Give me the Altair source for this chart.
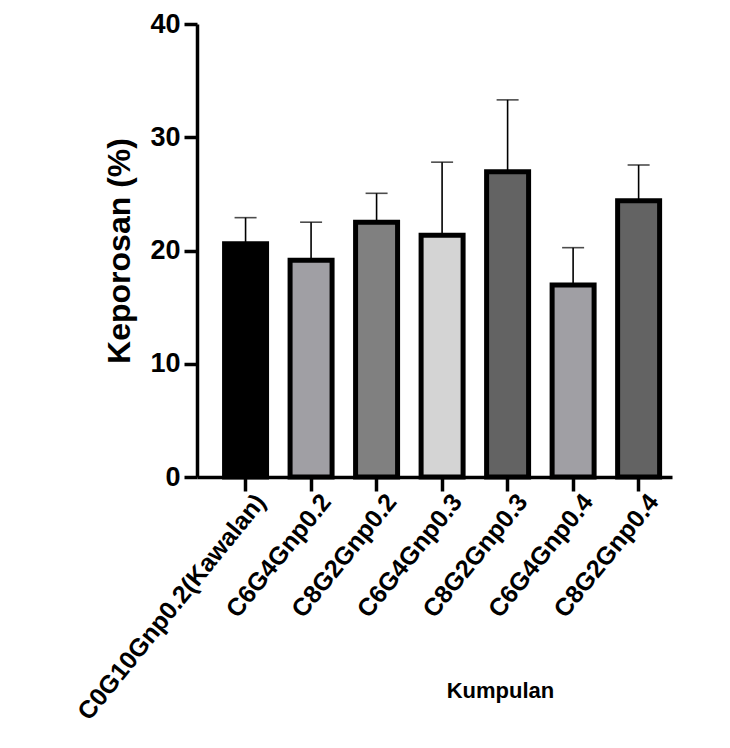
import altair as alt
import pandas as pd

categories = ["C0G10Gnp0.2(Kawalan)", "C6G4Gnp0.2", "C8G2Gnp0.2", "C6G4Gnp0.3",
              "C8G2Gnp0.3", "C6G4Gnp0.4", "C8G2Gnp0.4"]
means = [20.6, 19.15, 22.5, 21.35, 26.95, 16.95, 24.4]
upper = [22.9, 22.5, 25.05, 27.8, 33.3, 20.25, 27.55]
colors = ["#000000", "#a09fa4", "#808080", "#d4d4d4", "#636363", "#a09fa4", "#636363"]

df = pd.DataFrame({"cat": categories, "mean": means, "upper": upper})

FONT = "Liberation Sans"

x = alt.X("cat:N", sort=categories,
          scale=alt.Scale(paddingInner=0.359, paddingOuter=0.305, align=0.69),
          axis=alt.Axis(title="Kumpulan", labelAngle=-51, labelAlign="right",
                        labelBaseline="middle", labelFontSize=25, labelFontWeight="bold",
                        labelFont=FONT, labelColor="black", labelPadding=6, labelLimit=0,
                        labelOffset=15,
                        titleFontSize=22, titleFontWeight="bold", titleFont=FONT,
                        titleColor="black", titleX=303, titleY=203,
                        domainColor="black", domainWidth=3.5, tickColor="black",
                        tickWidth=3.5, tickSize=14, grid=False))
y_axis = alt.Axis(title="Keporosan (%)", values=[0, 10, 20, 30, 40],
                  labelFontSize=27, labelFontWeight="bold", labelFont=FONT,
                  labelColor="black", labelPadding=4,
                  titleFontSize=32, titleFontWeight="bold", titleFont=FONT,
                  titleColor="black", titlePadding=13,
                  domainColor="black", domainWidth=3.5, tickColor="black",
                  tickWidth=3.5, tickSize=13, grid=False)
yscale = alt.Scale(domain=[0, 40], nice=False, zero=True)

base = alt.Chart(df)

rule = base.mark_rule(color="black", strokeWidth=1.6).encode(
    x=x, y=alt.Y("mean:Q", scale=yscale, axis=y_axis), y2="upper:Q")
cap = base.mark_tick(color="black", thickness=1.6, size=22).encode(
    x=x, y=alt.Y("upper:Q", scale=yscale))
bars = base.mark_bar(stroke="black", strokeWidth=5, strokeJoin="miter").encode(
    x=x, y=alt.Y("mean:Q", scale=yscale, axis=y_axis),
    color=alt.Color("cat:N", scale=alt.Scale(domain=categories, range=colors), legend=None))

chart = alt.layer(rule, cap, bars).properties(
    width=475, height=453,
    background="white",
    autosize=alt.AutoSizeParams(type="none"),
    padding={"left": 189, "top": 16, "right": 30, "bottom": 255},
).configure_view(stroke=None, strokeWidth=0)

chart.save("out.html", embed_options={"renderer": "svg", "actions": False})
